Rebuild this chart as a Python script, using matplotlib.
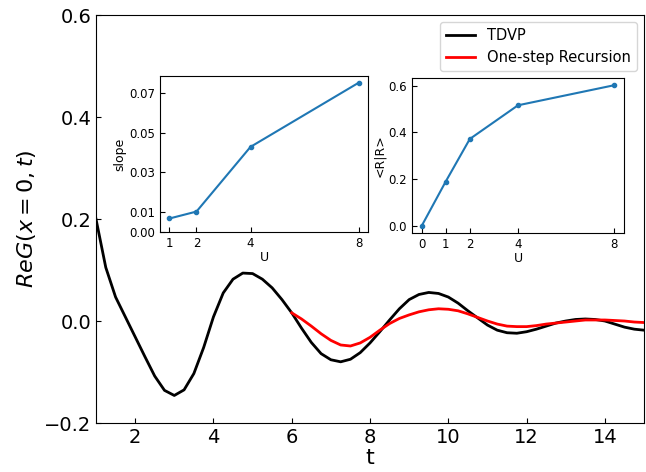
import matplotlib
matplotlib.use('Agg')
import matplotlib.pyplot as plt
import numpy as np

# main curves, every 0.25 in t
t_tdvp = np.arange(1.0, 15.01, 0.25)
g_tdvp = [0.200, 0.105, 0.047, 0.008, -0.031, -0.070, -0.108, -0.136,
          -0.146, -0.135, -0.103, -0.052, 0.008, 0.055, 0.082, 0.094,
          0.093, 0.082, 0.065, 0.042, 0.016, -0.014, -0.042, -0.064,
          -0.076, -0.080, -0.075, -0.062, -0.043, -0.021, 0.002, 0.024,
          0.042, 0.052, 0.056, 0.054, 0.047, 0.035, 0.020, 0.006,
          -0.008, -0.018, -0.023, -0.024, -0.021, -0.016, -0.010, -0.004,
          0.000, 0.003, 0.004, 0.003, 0.000, -0.006, -0.012, -0.016, -0.018]

t_rec = np.arange(6.0, 15.01, 0.25)
g_rec = [0.016, 0.004, -0.010, -0.025, -0.038, -0.047, -0.049, -0.043,
         -0.032, -0.018, -0.005, 0.005, 0.012, 0.018, 0.022, 0.024,
         0.023, 0.020, 0.014, 0.007, 0.000, -0.006, -0.010, -0.011,
         -0.011, -0.009, -0.006, -0.004, -0.002, 0.000, 0.002, 0.002,
         0.002, 0.001, 0.000, -0.002, -0.003]

# insets
U_slope = [1, 2, 4, 8]
slope = [0.0068, 0.0103, 0.0429, 0.0752]

U_rr = [0, 1, 2, 4, 8]
rr = [0.0, 0.190, 0.372, 0.516, 0.602]

fig = plt.figure(figsize=(6.46, 4.72), dpi=100)
ax = fig.add_axes([0.1486, 0.1038, 0.8484, 0.8644])

ax.plot(t_tdvp, g_tdvp, color='black', lw=2, label='TDVP')
ax.plot(t_rec, g_rec, color='red', lw=2, label='One-step Recursion')
ax.set_xlim(1, 15)
ax.set_ylim(-0.2, 0.6)
ax.set_xticks([2, 4, 6, 8, 10, 12, 14])
ax.set_yticks([-0.2, 0.0, 0.2, 0.4, 0.6])
ax.tick_params(direction='in', labelsize=14)
ax.set_xlabel('t', fontsize=16, labelpad=1)
ax.set_ylabel(r'$ReG(x=0,t)$', fontsize=16)
ax.legend(loc='upper right', fontsize=10.5, borderaxespad=0.5)

ax1 = fig.add_axes([0.2477, 0.5085, 0.322, 0.3305])
ax1.plot(U_slope, slope, marker='o', ms=3, color='tab:blue')
ax1.set_ylim(bottom=0)
ax1.set_xticks([1, 2, 4, 8])
ax1.set_yticks([0.00, 0.01, 0.03, 0.05, 0.07])
ax1.set_yticklabels(['0.00', '0.01', '0.03', '0.05', '0.07'])
ax1.tick_params(direction='in', labelsize=8.5)
ax1.set_xlabel('U', fontsize=9, labelpad=1)
ax1.set_ylabel('slope', fontsize=9, labelpad=2)

ax2 = fig.add_axes([0.6378, 0.5064, 0.328, 0.328])
ax2.plot(U_rr, rr, marker='o', ms=3, color='tab:blue')
ax2.set_xticks([0, 1, 2, 4, 8])
ax2.set_yticks([0.0, 0.2, 0.4, 0.6])
ax2.tick_params(direction='in', labelsize=8.5)
ax2.set_xlabel('U', fontsize=9, labelpad=1)
ax2.set_ylabel('<R|R>', fontsize=9, labelpad=2)

plt.savefig('out.png', dpi=100)
